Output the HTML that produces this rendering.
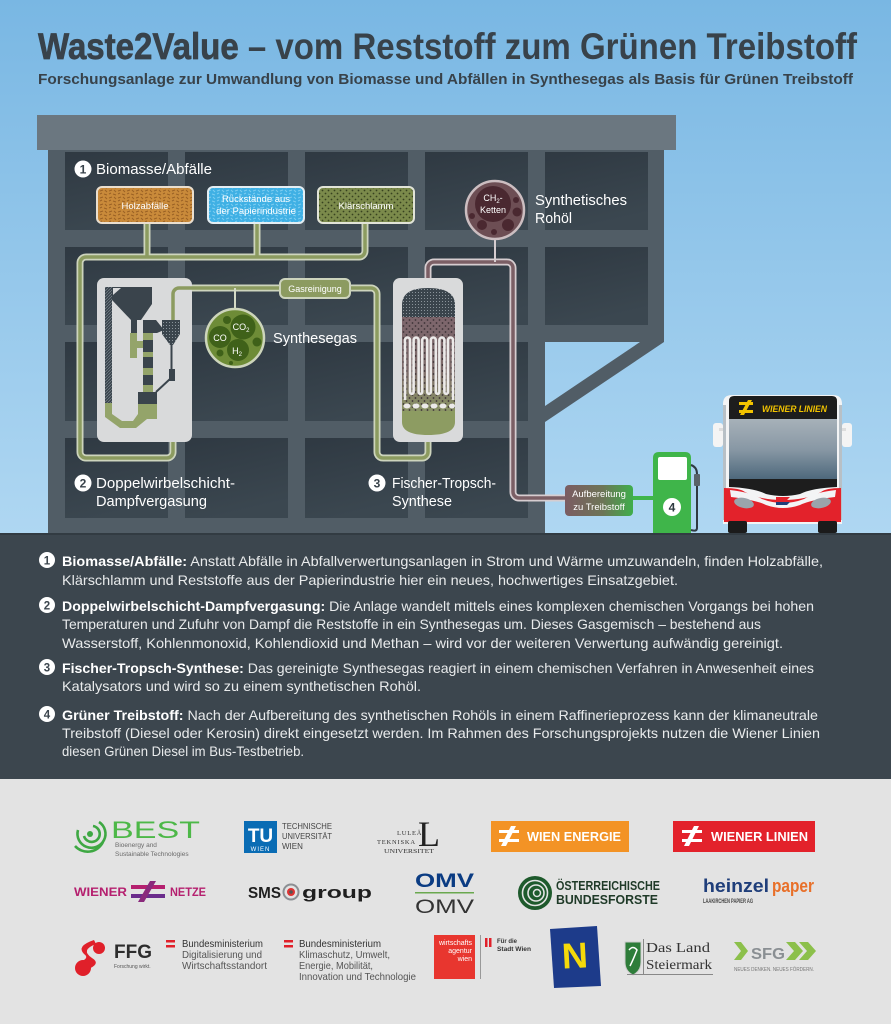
<!DOCTYPE html>
<html><head><meta charset="utf-8"><style>
html,body{margin:0;padding:0;background:#e3e3e3;}
svg{display:block;}
text{font-family:"Liberation Sans","DejaVu Sans",sans-serif;}
.n{font-family:"Liberation Sans Narrow","Liberation Sans",sans-serif;}
.s{font-family:"Liberation Serif",serif;}
</style></head><body>
<svg width="891" height="1024" viewBox="0 0 891 1024" xmlns="http://www.w3.org/2000/svg">
<defs>
<linearGradient id="sky" gradientUnits="userSpaceOnUse" x1="0" y1="0" x2="0" y2="534">
<stop offset="0" stop-color="#79b7e3"/><stop offset="1" stop-color="#afd7f2"/></linearGradient>
<linearGradient id="win" x1="0" y1="0" x2="0.3" y2="1">
<stop offset="0" stop-color="#2f3942"/><stop offset="1" stop-color="#3b4750"/></linearGradient>
<linearGradient id="wind" x1="0" y1="0" x2="0" y2="1">
<stop offset="0" stop-color="#a7b1b9"/><stop offset="0.5" stop-color="#8797a4"/><stop offset="1" stop-color="#4a6579"/></linearGradient>
<linearGradient id="auf" x1="0" y1="0" x2="1" y2="0">
<stop offset="0" stop-color="#7b5c62"/><stop offset="0.55" stop-color="#6d7457"/><stop offset="1" stop-color="#3fae4b"/></linearGradient>
<linearGradient id="reac" x1="0" y1="0" x2="0" y2="1">
<stop offset="0" stop-color="#7d666c"/><stop offset="0.55" stop-color="#7d6a6a"/><stop offset="1" stop-color="#8a9465"/></linearGradient>
<pattern id="wood" width="9" height="7" patternUnits="userSpaceOnUse">
<rect width="9" height="7" fill="#c98a3a"/><path d="M1,2 l3,-1 M5,5 l3,1 M6,1 l2,2 M1,5 l2,-1" stroke="#9a6124" stroke-width="1"/></pattern>
<pattern id="paper" width="9" height="7" patternUnits="userSpaceOnUse">
<rect width="9" height="7" fill="#3fb0e4"/><path d="M1,2 l3,-1 M5,5 l3,1 M6,1 l2,2 M1,5 l2,-1" stroke="#7ccdf1" stroke-width="1"/></pattern>
<pattern id="sludge" width="6" height="6" patternUnits="userSpaceOnUse">
<rect width="6" height="6" fill="#7b8a4b"/><circle cx="1.5" cy="1.5" r="0.9" fill="#37421f"/><circle cx="4.5" cy="4.5" r="0.9" fill="#37421f"/></pattern>
<pattern id="dotg" width="3" height="3" patternUnits="userSpaceOnUse">
<rect width="3" height="3" fill="#3a444c"/><rect x="1" y="1" width="1" height="1" fill="#8a939a"/></pattern>
<pattern id="mdots" width="6" height="6" patternUnits="userSpaceOnUse">
<circle cx="1.5" cy="2" r="0.9" fill="#3c3236"/><circle cx="4.5" cy="5" r="0.9" fill="#3c3236"/></pattern>
<pattern id="hatch" width="3" height="3" patternUnits="userSpaceOnUse">
<rect width="3" height="3" fill="#3a444c"/><path d="M0,3 L3,0" stroke="#7a848b" stroke-width="0.7"/></pattern>
</defs>

<rect x="0" y="0" width="891" height="534" fill="url(#sky)"/>

<text class="n" x="38" y="59" font-size="37" font-weight="bold" fill="#38424a" textLength="819" lengthAdjust="spacingAndGlyphs"><tspan stroke="#38424a" stroke-width="0.7">Waste2Value</tspan> – vom Reststoff zum Grünen Treibstoff</text>
<text class="n" x="38" y="84" font-size="15" font-weight="bold" fill="#38424a" textLength="815" lengthAdjust="spacingAndGlyphs">Forschungsanlage zur Umwandlung von Biomasse und Abfällen in Synthesegas als Basis für Grünen Treibstoff</text>

<rect x="37" y="115" width="639" height="35" fill="#6b7780"/>
<path d="M48,150 H664 V342 L545,422 V534 H48 Z" fill="#515d66"/>
<path d="M545,342 H640 L545,406 Z" fill="url(#sky)"/>
<g fill="url(#win)">
<rect x="65" y="152" width="103" height="78"/><rect x="185" y="152" width="103" height="78"/><rect x="305" y="152" width="103" height="78"/><rect x="425" y="152" width="103" height="78"/><rect x="545" y="152" width="103" height="78"/>
<rect x="65" y="247" width="103" height="78"/><rect x="185" y="247" width="103" height="78"/><rect x="305" y="247" width="103" height="78"/><rect x="425" y="247" width="103" height="78"/><rect x="545" y="247" width="103" height="78"/>
<rect x="65" y="342" width="103" height="79"/><rect x="185" y="342" width="103" height="79"/><rect x="305" y="342" width="103" height="79"/><rect x="425" y="342" width="103" height="79"/>
<rect x="65" y="438" width="103" height="80"/><rect x="185" y="438" width="103" height="80"/><rect x="305" y="438" width="103" height="80"/><rect x="425" y="438" width="103" height="80"/>
</g>

<circle cx="83" cy="169" r="8.5" fill="#fff"/><text x="83" y="173.5" font-size="12" font-weight="bold" fill="#38424a" text-anchor="middle">1</text>
<text x="96" y="174" font-size="15" fill="#fff" textLength="116" lengthAdjust="spacingAndGlyphs">Biomasse/Abfälle</text>

<g fill="none" stroke-linejoin="round">
<g stroke="#cdd4bd" stroke-width="7">
<path d="M147,223 V257 M257,223 V257"/>
<path d="M365,223 V251 a6,6 0 0 1 -6,6 H86 a6,6 0 0 0 -6,6 V452 a6,6 0 0 0 6,6 H167 a6,6 0 0 0 6,-6 V421 a6,6 0 0 0 -6,-6 H157"/>
<path d="M173,323 V294 a6,6 0 0 1 6,-6 H371 a6,6 0 0 1 6,6 V452 a6,6 0 0 0 6,6 H422 a6,6 0 0 0 6,-6 V440"/>
</g>
<g stroke="#8c9b60" stroke-width="3.5">
<path d="M147,223 V257 M257,223 V257"/>
<path d="M365,223 V251 a6,6 0 0 1 -6,6 H86 a6,6 0 0 0 -6,6 V452 a6,6 0 0 0 6,6 H167 a6,6 0 0 0 6,-6 V421 a6,6 0 0 0 -6,-6 H157"/>
<path d="M173,323 V294 a6,6 0 0 1 6,-6 H371 a6,6 0 0 1 6,6 V452 a6,6 0 0 0 6,6 H422 a6,6 0 0 0 6,-6 V440"/>
</g>
<path d="M428,290 V268 a6,6 0 0 1 6,-6 H507 a6,6 0 0 1 6,6 V492 a6,6 0 0 0 6,6 H566" stroke="#d6cdd0" stroke-width="7"/>
<path d="M428,290 V268 a6,6 0 0 1 6,-6 H507 a6,6 0 0 1 6,6 V492 a6,6 0 0 0 6,6 H566" stroke="#7b5f65" stroke-width="3.5"/>
<path d="M633,498 H655" stroke="#3fb54a" stroke-width="4"/>
<path d="M235,288 V308" stroke="#d4dac6" stroke-width="2"/>
<path d="M495,240 V262" stroke="#d6cdd0" stroke-width="2"/>
</g>

<rect x="97" y="187" width="96" height="36" rx="5" fill="url(#wood)" stroke="#eadfcf" stroke-width="2"/>
<text x="145" y="209" font-size="9.5" fill="#fff" text-anchor="middle">Holzabfälle</text>
<rect x="208" y="187" width="96" height="36" rx="5" fill="url(#paper)" stroke="#e4eef3" stroke-width="2"/>
<text x="256" y="202" font-size="9.5" fill="#fff" text-anchor="middle">Rückstände aus</text>
<text x="256" y="214" font-size="9.5" fill="#fff" text-anchor="middle">der Papierindustrie</text>
<rect x="318" y="187" width="96" height="36" rx="5" fill="url(#sludge)" stroke="#e2e4d8" stroke-width="2"/>
<text x="366" y="209" font-size="9.5" fill="#fff" text-anchor="middle">Klärschlamm</text>

<rect x="97" y="278" width="95" height="164" rx="7" fill="#d9dadb"/>
<path d="M173,323 V294 a6,6 0 0 1 6,-6 H192" fill="none" stroke="#8c9b60" stroke-width="3.5"/>
<rect x="105" y="287" width="7" height="118" fill="url(#hatch)"/>
<polygon points="112,287 152,287 152,304 141,320 131,320 112,300" fill="#3a444c"/>
<polygon points="113,288 121,288 113,295" fill="#d9dadb"/>
<rect x="131" y="320" width="6" height="13" fill="#3a444c"/>
<rect x="130" y="333" width="7" height="25" fill="#94a46a"/>
<rect x="137" y="341" width="7" height="7" fill="#94a46a"/>
<polygon points="143,320 156,320 164,330 157,333 143,333" fill="#3a444c"/>
<rect x="143" y="333" width="10" height="7" fill="#94a46a"/>
<rect x="143" y="340" width="10" height="12" fill="#3a444c"/>
<rect x="143" y="352" width="10" height="5" fill="#94a46a"/>
<rect x="143" y="357" width="10" height="11" fill="#3a444c"/>
<rect x="143" y="368" width="10" height="7" fill="#94a46a"/>
<rect x="143" y="375" width="10" height="10" fill="#3a444c"/>
<rect x="143" y="385" width="10" height="7" fill="#94a46a"/>
<polygon points="162,320 180,320 180,334 173,345 170,345 162,334" fill="url(#dotg)"/>
<rect x="170.5" y="345" width="2" height="24" fill="#3a444c"/>
<rect x="169" y="369" width="6" height="12" fill="#3a444c"/>
<path d="M170,379 L156,392" stroke="#3a444c" stroke-width="2"/>
<polygon points="105,403 157,403 157,419 147,419 136,428 120,428 105,417" fill="#94a46a"/>
<polygon points="112,403 138,403 138,414 133,421 122,421 112,414" fill="#d9dadb"/>
<rect x="138" y="392" width="19" height="12" fill="#3a444c"/>

<circle cx="235" cy="338" r="29" fill="#6e8c37" stroke="#cdd5bb" stroke-width="2.5"/>
<g fill="#3f6119">
<circle cx="220" cy="337" r="11"/><circle cx="243" cy="327" r="12.5"/><circle cx="238" cy="350" r="11"/>
<circle cx="227" cy="320" r="4"/><circle cx="257" cy="342" r="4.5"/><circle cx="220" cy="353" r="3.5"/><circle cx="231" cy="363" r="2"/>
</g>
<text x="220" y="341" font-size="9" fill="#fff" text-anchor="middle">CO</text>
<text x="241" y="330" font-size="9" fill="#fff" text-anchor="middle">CO<tspan font-size="6" dy="2">2</tspan></text>
<text x="237" y="354" font-size="9" fill="#fff" text-anchor="middle">H<tspan font-size="6" dy="2">2</tspan></text>
<text x="273" y="343" font-size="15" fill="#fff" textLength="84" lengthAdjust="spacingAndGlyphs">Synthesegas</text>

<rect x="280" y="279" width="70" height="19" rx="5" fill="#8c9b60" stroke="#cdd4bd" stroke-width="2"/>
<text x="315" y="292" font-size="9" fill="#fff" text-anchor="middle">Gasreinigung</text>

<rect x="393" y="278" width="70" height="164" rx="7" fill="#d9dadb"/>
<path d="M402,305 Q402,288 428,288 Q455,288 455,305 V317 H402 Z" fill="url(#dotg)"/>
<path d="M402,317 H455 V412 H402 Z" fill="url(#reac)"/>
<rect x="402" y="317" width="53" height="95" fill="url(#mdots)"/>
<path d="M405,400 V340 a2.5,2.5 0 0 1 5,0 V392 a1.8,1.8 0 0 0 3.6,0 V340 a2.5,2.5 0 0 1 5,0 V392 a1.8,1.8 0 0 0 3.6,0 V340 a2.5,2.5 0 0 1 5,0 V392 a1.8,1.8 0 0 0 3.6,0 V340 a2.5,2.5 0 0 1 5,0 V392 a1.8,1.8 0 0 0 3.6,0 V340 a2.5,2.5 0 0 1 5,0 V392 a1.8,1.8 0 0 0 3.6,0 V340 a2.5,2.5 0 0 1 5,0 V400" fill="none" stroke="#eceae9" stroke-width="2.6"/>
<g fill="#eceae9"><ellipse cx="407" cy="406" rx="3.5" ry="2.5"/><ellipse cx="416" cy="406" rx="3.5" ry="2.5"/><ellipse cx="425" cy="406" rx="3.5" ry="2.5"/><ellipse cx="434" cy="406" rx="3.5" ry="2.5"/><ellipse cx="443" cy="406" rx="3.5" ry="2.5"/><ellipse cx="452" cy="406" rx="3" ry="2.5"/></g>
<path d="M402,411 H455 V422 Q455,435 428,435 Q402,435 402,422 Z" fill="#8d9c62"/>

<circle cx="495" cy="210" r="29" fill="#6d4e54" stroke="#ccbec1" stroke-width="2.5"/>
<circle cx="493" cy="204" r="18" fill="#4a2830"/>
<g fill="#4a2830"><circle cx="472" cy="216" r="3"/><circle cx="482" cy="225" r="5"/><circle cx="494" cy="232" r="3"/><circle cx="508" cy="225" r="6"/><circle cx="517" cy="212" r="4.5"/><circle cx="516" cy="200" r="3"/></g>
<text x="493" y="201" font-size="9" fill="#fff" text-anchor="middle">CH<tspan font-size="6" dy="2">2</tspan><tspan dy="-2">-</tspan></text>
<text x="493" y="213" font-size="9" fill="#fff" text-anchor="middle">Ketten</text>
<text x="535" y="205" font-size="15" fill="#fff" textLength="92" lengthAdjust="spacingAndGlyphs">Synthetisches</text>
<text x="535" y="223" font-size="15" fill="#fff" textLength="37" lengthAdjust="spacingAndGlyphs">Rohöl</text>

<circle cx="83" cy="483" r="8.5" fill="#fff"/><text x="83" y="487.5" font-size="12" font-weight="bold" fill="#38424a" text-anchor="middle">2</text>
<text x="96" y="488" font-size="15" fill="#fff" textLength="139" lengthAdjust="spacingAndGlyphs">Doppelwirbelschicht-</text>
<text x="96" y="506" font-size="15" fill="#fff" textLength="111" lengthAdjust="spacingAndGlyphs">Dampfvergasung</text>
<circle cx="377" cy="483" r="8.5" fill="#fff"/><text x="377" y="487.5" font-size="12" font-weight="bold" fill="#38424a" text-anchor="middle">3</text>
<text x="392" y="488" font-size="15" fill="#fff" textLength="104" lengthAdjust="spacingAndGlyphs">Fischer-Tropsch-</text>
<text x="392" y="506" font-size="15" fill="#fff" textLength="60" lengthAdjust="spacingAndGlyphs">Synthese</text>

<rect x="565" y="485" width="68" height="31" rx="4" fill="url(#auf)"/>
<text x="599" y="497" font-size="9.5" fill="#fff" text-anchor="middle">Aufbereitung</text>
<text x="599" y="510" font-size="9.5" fill="#fff" text-anchor="middle">zu Treibstoff</text>

<path d="M653,534 V458 Q653,452 659,452 H685 Q691,452 691,458 V534 Z" fill="#3fb54a"/>
<rect x="658" y="457" width="29" height="23" rx="2" fill="#fff"/>
<circle cx="672" cy="507" r="9" fill="#fff"/><text x="672" y="511.5" font-size="12" font-weight="bold" fill="#2e3a40" text-anchor="middle">4</text>
<path d="M691,465 Q697,467 697,474 V528 Q697,532 691,530" fill="none" stroke="#2f3a42" stroke-width="2"/>
<rect x="694" y="474" width="6" height="12" rx="1" fill="#59636a"/>

<rect x="713" y="423" width="10" height="24" rx="3" fill="#f4f4f4"/>
<rect x="842" y="423" width="10" height="24" rx="3" fill="#f4f4f4"/>
<rect x="719" y="428" width="6" height="3" fill="#ddd"/><rect x="840" y="428" width="6" height="3" fill="#ddd"/>
<path d="M723,404 Q723,395 732,395 H833 Q842,395 842,404 V524 H723 Z" fill="#f3f4f5"/>
<rect x="723" y="405" width="3" height="115" fill="#b8c0c6"/><rect x="839" y="405" width="3" height="115" fill="#b8c0c6"/>
<path d="M729,401 Q729,396 734,396 H832 Q837,396 837,401 V419 H729 Z" fill="#1d1d1d"/>
<rect x="729" y="419" width="108" height="62" fill="url(#wind)"/>
<path d="M729,479 H837 V487 Q812,488 800,494 Q783,498 766,494 Q754,488 729,487 Z" fill="#1d1d1d"/>
<path d="M724,488 Q740,488 745,492 Q760,500 783,500 Q806,500 821,492 Q826,488 841,488 V522 H724 Z" fill="#e3222b"/>
<path d="M730,490 Q750,492 762,499 Q783,507 804,499 Q816,492 836,490 L835,497 Q810,500 800,505 Q783,511 766,505 Q756,500 731,497 Z" fill="#f3f4f5"/>
<ellipse cx="744" cy="503" rx="10" ry="5" fill="#9aa4ab" transform="rotate(12 744 503)"/>
<ellipse cx="821" cy="503" rx="10" ry="5" fill="#9aa4ab" transform="rotate(-12 821 503)"/>
<path d="M776,497 h14 l-3,3 h-11 z" fill="#e3222b"/><path d="M776,502 h14 l-3,3 h-11 z" fill="#1f3e7a"/>
<rect x="728" y="521" width="19" height="12" rx="2" fill="#1b1b1b"/>
<rect x="818" y="521" width="19" height="12" rx="2" fill="#1b1b1b"/>
<g fill="#f2c300"><rect x="739" y="402" width="14" height="3"/><rect x="739" y="410" width="14" height="3"/><polygon points="748,400 752,400 744,415 740,415"/></g>
<text x="762" y="412" font-size="9" font-weight="bold" font-style="italic" fill="#f2c300" textLength="65" lengthAdjust="spacingAndGlyphs">WIENER LINIEN</text>

<rect x="0" y="533" width="891" height="246" fill="#3c464e"/>
<rect x="0" y="533" width="891" height="2" fill="#323b42"/>
<g font-size="14" fill="#e9ebec">
<circle cx="47" cy="560" r="8" fill="#fff"/><text x="47" y="564.5" font-size="11.5" font-weight="bold" fill="#3c464e" text-anchor="middle">1</text>
<text class="n" x="62" y="566" textLength="761" lengthAdjust="spacingAndGlyphs"><tspan font-weight="bold" fill="#fff">Biomasse/Abfälle:</tspan> Anstatt Abfälle in Abfallverwertungsanlagen in Strom und Wärme umzuwandeln, finden Holzabfälle,</text>
<text class="n" x="62" y="585" textLength="616" lengthAdjust="spacingAndGlyphs">Klärschlamm und Reststoffe aus der Papierindustrie hier ein neues, hochwertiges Einsatzgebiet.</text>
<circle cx="47" cy="605" r="8" fill="#fff"/><text x="47" y="609.5" font-size="11.5" font-weight="bold" fill="#3c464e" text-anchor="middle">2</text>
<text class="n" x="62" y="611" textLength="752" lengthAdjust="spacingAndGlyphs"><tspan font-weight="bold" fill="#fff">Doppelwirbelschicht-Dampfvergasung:</tspan> Die Anlage wandelt mittels eines komplexen chemischen Vorgangs bei hohen</text>
<text class="n" x="62" y="629" textLength="699" lengthAdjust="spacingAndGlyphs">Temperaturen und Zufuhr von Dampf die Reststoffe in ein Synthesegas um. Dieses Gasgemisch – bestehend aus</text>
<text class="n" x="62" y="648" textLength="721" lengthAdjust="spacingAndGlyphs">Wasserstoff, Kohlenmonoxid, Kohlendioxid und Methan – wird vor der weiteren Verwertung aufwändig gereinigt.</text>
<circle cx="47" cy="667" r="8" fill="#fff"/><text x="47" y="671.5" font-size="11.5" font-weight="bold" fill="#3c464e" text-anchor="middle">3</text>
<text class="n" x="62" y="673" textLength="752" lengthAdjust="spacingAndGlyphs"><tspan font-weight="bold" fill="#fff">Fischer-Tropsch-Synthese:</tspan> Das gereinigte Synthesegas reagiert in einem chemischen Verfahren in Anwesenheit eines</text>
<text class="n" x="62" y="691" textLength="359" lengthAdjust="spacingAndGlyphs">Katalysators und wird so zu einem synthetischen Rohöl.</text>
<circle cx="47" cy="714" r="8" fill="#fff"/><text x="47" y="718.5" font-size="11.5" font-weight="bold" fill="#3c464e" text-anchor="middle">4</text>
<text class="n" x="62" y="720" textLength="756" lengthAdjust="spacingAndGlyphs"><tspan font-weight="bold" fill="#fff">Grüner Treibstoff:</tspan> Nach der Aufbereitung des synthetischen Rohöls in einem Raffinerieprozess kann der klimaneutrale</text>
<text class="n" x="62" y="738" textLength="758" lengthAdjust="spacingAndGlyphs">Treibstoff (Diesel oder Kerosin) direkt eingesetzt werden. Im Rahmen des Forschungsprojekts nutzen die Wiener Linien</text>
<text class="n" x="62" y="756" textLength="242" lengthAdjust="spacingAndGlyphs">diesen Grünen Diesel im Bus-Testbetrieb.</text>
</g>

<rect x="0" y="779" width="891" height="245" fill="#e3e3e3"/>

<g fill="none" stroke="#3ea843" stroke-width="2.6">
<path d="M93,826 A8,8 0 1 1 84,836"/><path d="M99,822 A14,14 0 1 1 78,830"/><path d="M103,842 A17,17 0 0 1 75,846"/>
</g>
<circle cx="90" cy="834" r="3" fill="#3ea843"/>
<text x="111" y="838" font-size="24" fill="#4db848" textLength="89" lengthAdjust="spacingAndGlyphs">BEST</text>
<text x="115" y="847" font-size="6.5" fill="#6b6b6b">Bioenergy and</text>
<text x="115" y="856" font-size="6.5" fill="#6b6b6b">Sustainable Technologies</text>

<rect x="244" y="821" width="33" height="32" fill="#0a6cb4"/>
<text x="260.5" y="842" font-size="19" font-weight="bold" fill="#fff" text-anchor="middle">TU</text>
<text x="260.5" y="851" font-size="6" fill="#fff" text-anchor="middle" letter-spacing="1">WIEN</text>
<text class="n" x="282" y="829" font-size="8" fill="#444" textLength="50" lengthAdjust="spacingAndGlyphs">TECHNISCHE</text>
<text class="n" x="282" y="839" font-size="8" fill="#444" textLength="50" lengthAdjust="spacingAndGlyphs">UNIVERSITÄT</text>
<text class="n" x="282" y="849" font-size="8" fill="#444">WIEN</text>

<text class="s" x="397" y="835" font-size="6.5" fill="#333" letter-spacing="0.8">LULEÅ</text>
<text class="s" x="377" y="844" font-size="6.5" fill="#333" letter-spacing="0.8">TEKNISKA</text>
<text class="s" x="384" y="853" font-size="6.5" fill="#333" textLength="50" lengthAdjust="spacingAndGlyphs">UNIVERSITET</text>
<text class="s" x="418" y="846" font-size="36" fill="#222">L</text>

<rect x="491" y="821" width="138" height="31" fill="#f39325"/>
<g fill="#fff"><rect x="499" y="830" width="20" height="3"/><rect x="499" y="839" width="20" height="3"/><polygon points="511,826 516,826 506,846 501,846"/></g>
<text x="527" y="841" font-size="12.5" font-weight="bold" fill="#fff" textLength="94" lengthAdjust="spacingAndGlyphs">WIEN ENERGIE</text>

<rect x="673" y="821" width="142" height="31" fill="#e3222b"/>
<g fill="#fff"><rect x="682" y="830" width="20" height="3"/><rect x="682" y="839" width="20" height="3"/><polygon points="694,826 699,826 689,846 684,846"/></g>
<text x="711" y="841" font-size="12.5" font-weight="bold" fill="#fff" textLength="97" lengthAdjust="spacingAndGlyphs">WIENER LINIEN</text>

<text x="74" y="896" font-size="12" font-weight="bold" fill="#b5206f" textLength="53" lengthAdjust="spacingAndGlyphs">WIENER</text>
<g><rect x="131" y="885" width="34" height="4" fill="#b5206f"/><rect x="131" y="894" width="34" height="4" fill="#6a2c8c"/><polygon points="150,881 156,881 144,902 138,902" fill="#8a2a7c"/></g>
<text x="170" y="896" font-size="12" font-weight="bold" fill="#b5206f" textLength="36" lengthAdjust="spacingAndGlyphs">NETZE</text>

<text x="248" y="898" font-size="16" font-weight="bold" fill="#1f1f1f" textLength="33" lengthAdjust="spacingAndGlyphs">SMS</text>
<circle cx="291" cy="892" r="7.5" fill="#e3e3e3" stroke="#8b8f93" stroke-width="2"/><circle cx="291" cy="892" r="4" fill="#d33"/><circle cx="291" cy="892" r="1.8" fill="#555"/>
<text x="302" y="898" font-size="17" font-weight="bold" fill="#1f1f1f" textLength="70" lengthAdjust="spacingAndGlyphs">group</text>

<text x="415" y="887" font-size="19" font-weight="bold" fill="#0b3c83" textLength="59" lengthAdjust="spacingAndGlyphs">OMV</text>
<rect x="415" y="892" width="59" height="1.5" fill="#6aa84f"/>
<text x="415" y="913" font-size="19" fill="#333" textLength="59" lengthAdjust="spacingAndGlyphs">OMV</text>

<circle cx="535" cy="893" r="17" fill="#1e5a2c"/>
<circle cx="535" cy="893" r="12.5" fill="none" stroke="#e3e3e3" stroke-width="1.6"/>
<circle cx="536" cy="893" r="8" fill="none" stroke="#e3e3e3" stroke-width="1.6"/>
<circle cx="537" cy="893" r="3.5" fill="none" stroke="#e3e3e3" stroke-width="1.5"/>
<text class="n" x="556" y="890" font-size="12.5" font-weight="bold" fill="#1f3a28" textLength="104" lengthAdjust="spacingAndGlyphs">ÖSTERREICHISCHE</text>
<text class="n" x="556" y="904" font-size="12.5" font-weight="bold" fill="#1f3a28" textLength="102" lengthAdjust="spacingAndGlyphs">BUNDESFORSTE</text>

<text x="703" y="892" font-size="18" font-weight="bold" fill="#1f3e7a" textLength="66" lengthAdjust="spacingAndGlyphs">heinzel</text>
<text x="772" y="892" font-size="18" font-weight="bold" fill="#e8702a" textLength="42" lengthAdjust="spacingAndGlyphs">paper</text>
<text class="n" x="703" y="903" font-size="6" font-weight="bold" fill="#444" textLength="50" lengthAdjust="spacingAndGlyphs">LAAKIRCHEN PAPIER AG</text>

<g fill="#e0202a"><circle cx="99" cy="948" r="6"/><circle cx="83" cy="968" r="8"/><path d="M96,944 Q80,950 92,958 Q102,964 86,970 L80,962 Q90,958 84,954 Q76,946 94,940 Z"/></g>
<text x="114" y="958" font-size="19" font-weight="bold" fill="#2d2d2d" textLength="38" lengthAdjust="spacingAndGlyphs">FFG</text>
<text x="114" y="968" font-size="5" fill="#555">Forschung wirkt.</text>

<rect x="166" y="940" width="9" height="2.5" fill="#e0202a"/><rect x="166" y="945" width="9" height="2.5" fill="#e0202a"/>
<text class="n" x="182" y="947" font-size="10.5" fill="#333" textLength="81" lengthAdjust="spacingAndGlyphs">Bundesministerium</text>
<text class="n" x="182" y="958" font-size="10.5" fill="#555" textLength="80" lengthAdjust="spacingAndGlyphs">Digitalisierung und</text>
<text class="n" x="182" y="969" font-size="10.5" fill="#555" textLength="85" lengthAdjust="spacingAndGlyphs">Wirtschaftsstandort</text>

<rect x="284" y="940" width="9" height="2.5" fill="#e0202a"/><rect x="284" y="945" width="9" height="2.5" fill="#e0202a"/>
<text class="n" x="299" y="947" font-size="10.5" fill="#333" textLength="82" lengthAdjust="spacingAndGlyphs">Bundesministerium</text>
<text class="n" x="299" y="958" font-size="10.5" fill="#555" textLength="91" lengthAdjust="spacingAndGlyphs">Klimaschutz, Umwelt,</text>
<text class="n" x="299" y="969" font-size="10.5" fill="#555" textLength="74" lengthAdjust="spacingAndGlyphs">Energie, Mobilität,</text>
<text class="n" x="299" y="980" font-size="10.5" fill="#555" textLength="117" lengthAdjust="spacingAndGlyphs">Innovation und Technologie</text>

<rect x="434" y="935" width="41" height="44" fill="#e8362f"/>
<text class="n" x="472" y="945" font-size="7" fill="#fff" text-anchor="end">wirtschafts</text>
<text class="n" x="472" y="953" font-size="7" fill="#fff" text-anchor="end">agentur</text>
<text class="n" x="472" y="961" font-size="7" fill="#fff" text-anchor="end">wien</text>
<rect x="480" y="935" width="1" height="44" fill="#999"/>
<rect x="485" y="938" width="2.5" height="9" fill="#e0202a"/><rect x="489" y="938" width="2.5" height="9" fill="#e0202a"/>
<text class="n" x="497" y="943" font-size="6.5" font-weight="bold" fill="#333" textLength="20" lengthAdjust="spacingAndGlyphs">Für die</text>
<text class="n" x="497" y="951" font-size="6.5" font-weight="bold" fill="#333" textLength="34" lengthAdjust="spacingAndGlyphs">Stadt Wien</text>

<polygon points="550,929 597,926 601,986 554,988" fill="#1d3b8a"/>
<text x="575" y="968" font-size="36" font-weight="bold" fill="#f5d90a" text-anchor="middle" transform="rotate(-3 575 958)">N</text>

<path d="M625,942 H641 V962 Q641,971 633,975 Q625,971 625,962 Z" fill="#2e7d3a" stroke="#ccc" stroke-width="1"/>
<path d="M629,950 Q633,945 637,950 Q633,960 630,966" fill="none" stroke="#fff" stroke-width="1.5"/>
<text class="s" x="646" y="952" font-size="14" fill="#333" textLength="64" lengthAdjust="spacingAndGlyphs">Das Land</text>
<text class="s" x="646" y="969" font-size="14" fill="#333" textLength="66" lengthAdjust="spacingAndGlyphs">Steiermark</text>
<rect x="627" y="974" width="86" height="1" fill="#888"/>
<rect x="643" y="939" width="1" height="35" fill="#888"/>

<polygon points="734,942 741,942 748,951 741,960 734,960 741,951" fill="#8cc04b"/>
<text x="751" y="959" font-size="16" font-weight="bold" fill="#8a8f93" textLength="34" lengthAdjust="spacingAndGlyphs">SFG</text>
<polygon points="786,942 795,942 803,951 795,960 786,960 794,951" fill="#8cc04b"/>
<polygon points="799,942 808,942 816,951 808,960 799,960 807,951" fill="#8cc04b"/>
<text class="n" x="734" y="971" font-size="5" fill="#777" textLength="80" lengthAdjust="spacingAndGlyphs">NEUES DENKEN. NEUES FÖRDERN.</text>
</svg>
</body></html>
